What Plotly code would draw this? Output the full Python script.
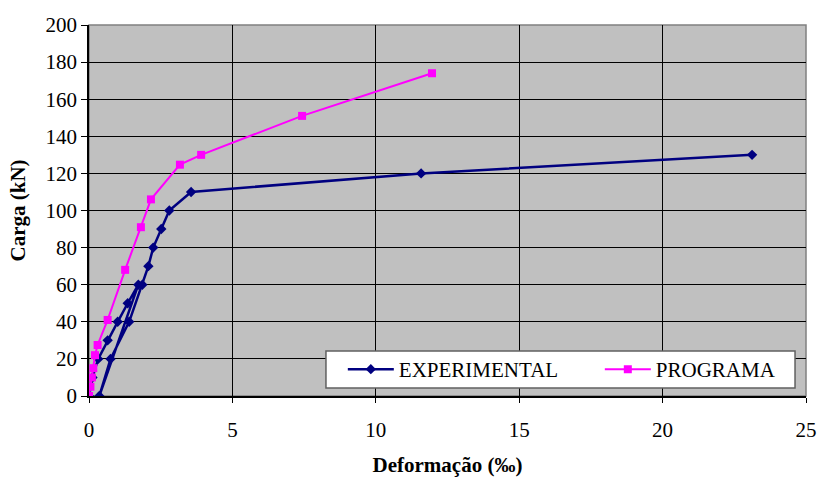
import plotly.graph_objects as go

# Experimental load-strain record (loading, unloading, reloading)
exp_strain = [0.0, 0.12, 0.32, 0.65, 1.0, 1.35, 1.72, 0.36, 0.75, 1.40, 1.86,
              2.07, 2.24, 2.52, 2.80, 3.56, 11.58, 23.12]
exp_load = [0, 10, 20, 30, 40, 50, 60, 0, 20, 40, 60,
            70, 80, 90, 100, 110, 120, 130]

# Numerical model prediction
prog_strain = [0.0, 0.05, 0.10, 0.15, 0.21, 0.30, 0.65, 1.26, 1.81, 2.16,
               3.17, 3.91, 7.43, 11.96]
prog_load = [0, 5, 10, 15, 22, 27.5, 41, 68, 91, 106,
             124.7, 130, 151, 174]

x_ticks = [0, 5, 10, 15, 20, 25]
y_ticks = list(range(0, 201, 20))

serif = "Times New Roman"
tick_font = dict(family=serif, size=21, color="black")
title_font = dict(family=serif, size=21, color="black")

fig = go.Figure()
fig.add_trace(go.Scatter(
    x=exp_strain, y=exp_load, name="EXPERIMENTAL",
    mode="lines+markers",
    line=dict(color="#000080", width=2.5),
    marker=dict(symbol="diamond", size=8, color="#000080"),
))
fig.add_trace(go.Scatter(
    x=prog_strain, y=prog_load, name="PROGRAMA",
    mode="lines+markers",
    line=dict(color="#FF00FF", width=2),
    marker=dict(symbol="square", size=8, color="#FF00FF"),
))

fig.update_layout(
    width=818, height=477,
    margin=dict(l=89, r=12, t=25, b=81, autoexpand=False),
    paper_bgcolor="white",
    plot_bgcolor="#C0C0C0",
    font=dict(family=serif, size=20, color="black"),
    showlegend=True,
    legend=dict(
        orientation="h",
        x=0.354, y=0.0714, xanchor="left", yanchor="middle",
        bgcolor="rgba(0,0,0,0)", borderwidth=0,
        font=dict(family=serif, size=21, color="black"),
        itemwidth=46, entrywidth=196,
    ),
    xaxis=dict(
        range=[0, 25], tickvals=x_ticks, tickfont=tick_font,
        showgrid=True, gridcolor="black", gridwidth=1,
        showline=True, linecolor="black", linewidth=1.5,
        ticks="outside", ticklen=5, tickcolor="black",
        ticklabelstandoff=9, automargin=False,
        zeroline=False,
        title=dict(text="<b>Deformação (‰)</b>", standoff=19, font=title_font),
    ),
    yaxis=dict(
        range=[0, 200], tickvals=y_ticks, tickfont=tick_font,
        showgrid=True, gridcolor="black", gridwidth=1,
        showline=True, linecolor="black", linewidth=1.5,
        ticks="outside", ticklen=6, tickcolor="black",
        automargin=False,
        zeroline=False,
        title=dict(text="<b>Carga (kN)</b>", standoff=14, font=title_font),
    ),
)

# gray frame around the plotting area
fig.add_shape(type="rect", xref="paper", yref="paper", x0=0, y0=0, x1=1, y1=1,
              line=dict(color="#808080", width=1.5), layer="below")

# white legend box
fig.add_shape(type="rect", xref="paper", yref="paper",
              x0=0.3305, x1=0.9847, y0=0.0216, y1=0.1213,
              fillcolor="white", line=dict(color="#606060", width=1.5),
              layer="above")

fig.write_html("out.html")
